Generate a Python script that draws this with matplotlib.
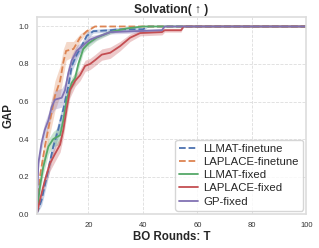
import numpy as np
import matplotlib.pyplot as plt
import seaborn as sns

sns.set_style("whitegrid", {"grid.linestyle": "--"})
plt.rcParams['font.family'] = ['Liberation Sans', 'DejaVu Sans']

# LLMAT-finetune
t_llmat_ft = [1, 2.8, 4.7, 7.1, 8.9, 10.8, 12.6, 13.9, 15.7, 17.5, 19.4, 21.8, 28, 31, 40, 42, 100]
m_llmat_ft = [0, 0.075, 0.2, 0.36, 0.45, 0.56, 0.68, 0.79, 0.85, 0.895, 0.95, 0.975, 0.98, 0.985,
              0.985, 1.0, 1.0]
s_llmat_ft = [0, 0.03, 0.04, 0.04, 0.04, 0.04, 0.04, 0.03, 0.03, 0.02, 0.02, 0.01, 0.01, 0.01,
              0.01, 0, 0]

# LAPLACE-finetune
t_lap_ft = [1, 2.2, 4, 5.9, 7.7, 9.6, 10.8, 11.8, 14.5, 16.9, 19.4, 22.4, 100]
m_lap_ft = [0, 0.2, 0.36, 0.5, 0.63, 0.71, 0.81, 0.87, 0.88, 0.94, 0.975, 1.0, 1.0]
s_lap_ft = [0, 0.04, 0.05, 0.07, 0.08, 0.08, 0.07, 0.05, 0.04, 0.02, 0.01, 0, 0]

# LLMAT-fixed
t_llmat_fx = [1, 2.2, 3.4, 5.3, 7.1, 9.6, 10.8, 12, 13.9, 15.1, 16.3, 18.1, 20, 23, 28, 34, 40, 100]
m_llmat_fx = [0, 0.146, 0.25, 0.36, 0.4, 0.42, 0.5, 0.61, 0.7, 0.725, 0.8, 0.88, 0.91, 0.94, 0.97,
              0.99, 1.0, 1.0]
s_llmat_fx = [0, 0.03, 0.04, 0.04, 0.04, 0.05, 0.05, 0.04, 0.03, 0.03, 0.03, 0.02, 0.02, 0.015,
              0.01, 0.005, 0, 0]

# LAPLACE-fixed
t_lap_fx = [1, 2.2, 4, 5.9, 7.7, 9.6, 10.8, 12, 13.2, 15.1, 16.9, 18.8, 20.6, 22.4, 24.9, 28,
            31.6, 35.3, 39, 47, 48, 54, 55, 100]
m_lap_fx = [0, 0.075, 0.18, 0.27, 0.32, 0.37, 0.45, 0.56, 0.66, 0.71, 0.74, 0.79, 0.8, 0.82, 0.85,
            0.86, 0.895, 0.94, 0.965, 0.97, 0.98, 0.98, 1.0, 1.0]
s_lap_fx = [0, 0.02, 0.03, 0.04, 0.04, 0.04, 0.04, 0.04, 0.04, 0.03, 0.03, 0.03, 0.03, 0.03, 0.03,
            0.03, 0.025, 0.02, 0.015, 0.015, 0.01, 0.01, 0, 0]

# GP-fixed
t_gp = [1, 1.6, 2.8, 4, 5.3, 6.5, 7.7, 10.2, 11.4, 12.6, 13.9, 15.7, 18.1, 20.6, 24.3, 28, 47, 48, 100]
m_gp = [0, 0.27, 0.38, 0.45, 0.5, 0.57, 0.61, 0.62, 0.66, 0.75, 0.82, 0.87, 0.9, 0.93, 0.95, 0.97,
        0.98, 1.0, 1.0]
s_gp = [0, 0.03, 0.04, 0.04, 0.04, 0.04, 0.05, 0.05, 0.04, 0.04, 0.03, 0.03, 0.02, 0.02, 0.01,
        0.01, 0.01, 0, 0]

series = [
    ('LLMAT-finetune', t_llmat_ft, m_llmat_ft, s_llmat_ft, '#4C72B0', '--'),
    ('LAPLACE-finetune', t_lap_ft, m_lap_ft, s_lap_ft, '#DD8452', '--'),
    ('LLMAT-fixed', t_llmat_fx, m_llmat_fx, s_llmat_fx, '#55A868', '-'),
    ('LAPLACE-fixed', t_lap_fx, m_lap_fx, s_lap_fx, '#C44E52', '-'),
    ('GP-fixed', t_gp, m_gp, s_gp, '#8172B3', '-'),
]

fig = plt.figure(figsize=(3.19, 2.48), dpi=100)
ax = fig.add_axes([0.115, 0.137, 0.845, 0.794])

for name, t, m, s, c, ls in series:
    t = np.array(t)
    m = np.array(m)
    s = np.array(s)
    ax.fill_between(t, m - s, np.minimum(m + s, 1.0), color=c, alpha=0.3, lw=0)
    ax.plot(t, m, color=c, ls=ls, lw=1.3, label=name)

ax.set_xlim(1, 100)
ax.set_ylim(0, 1.05)
ax.set_yticks([0, 0.2, 0.4, 0.6, 0.8, 1.0])
ax.tick_params(labelsize=5.5, pad=2, labelcolor='#333333')
ax.grid(True, ls='--', lw=0.6, color='#dddddd')
for sp in ax.spines.values():
    sp.set_color('#dddddd')
    sp.set_linewidth(1.2)

ax.set_title('Solvation( ↑ )', fontsize=8.6, fontweight='bold', pad=3)
ax.set_xlabel('BO Rounds: T', fontsize=8.3, fontweight='bold', labelpad=2)
ax.set_ylabel('GAP', fontsize=8.3, fontweight='bold', labelpad=3)
ax.legend(loc='lower right', fontsize=8.2, frameon=True, handlelength=1.6,
          labelspacing=0.28, borderpad=0.35, handletextpad=0.5, borderaxespad=0.3)

fig.savefig('out.png', dpi=100)
